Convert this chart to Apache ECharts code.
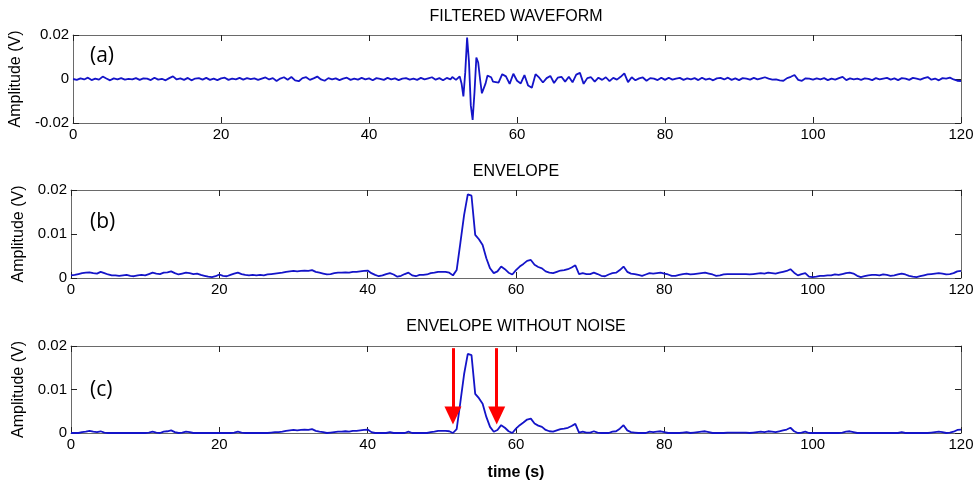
<!DOCTYPE html>
<html><head><meta charset="utf-8">
<script src="https://cdn.jsdelivr.net/npm/echarts@6/dist/echarts.min.js"></script>
<style>html,body{margin:0;padding:0;background:#fff}#c{width:977px;height:486px}</style>
</head><body><div id="c"></div><script>
// ---------- DATA ----------
const xTicks = [0, 20, 40, 60, 80, 100, 120];
const panelTitles = ['FILTERED WAVEFORM', 'ENVELOPE', 'ENVELOPE WITHOUT NOISE'];
const panelTags = ['(a)', '(b)', '(c)'];
const xTitle = 'time (s)';
const yTitle = 'Amplitude (V)';

// filtered waveform, t = 0 .. 50.5 s every 0.5 s
const waveBefore = [
  0.0000,-0.0004,0.0003,-0.0002,0.0006,-0.0005,0.0002,-0.0003,0.0011,0.0002,
  -0.0006,0.0003,-0.0002,0.0004,-0.0003,0.0001,-0.0002,0.0004,-0.0004,0.0003,
  0.0002,-0.0005,0.0006,-0.0003,0.0001,-0.0006,0.0004,0.0012,-0.0002,0.0003,
  -0.0004,0.0005,-0.0006,0.0002,0.0004,-0.0003,0.0005,-0.0004,0.0002,-0.0005,
  0.0003,0.0006,-0.0004,0.0002,-0.0002,0.0005,-0.0003,0.0004,-0.0001,0.0003,
  -0.0004,0.0002,0.0007,-0.0002,0.0004,-0.0009,0.0002,0.0008,-0.0003,0.0009,
  -0.0006,-0.0010,0.0004,0.0008,-0.0004,0.0003,0.0011,-0.0002,-0.0008,0.0004,
  -0.0002,0.0003,-0.0005,0.0002,0.0006,-0.0004,0.0002,-0.0003,0.0005,-0.0002,
  0.0003,-0.0006,0.0004,0.0001,-0.0004,0.0005,-0.0002,0.0003,-0.0005,0.0002,
  0.0004,-0.0003,0.0002,-0.0004,0.0005,-0.0002,0.0003,0.0008,-0.0003,0.0004,
  -0.0006,0.0005
];
// burst, t = 51 .. 57 s every 0.25 s
const waveBurst = [
  -0.0002,0.0009,0.0011,-0.0004,-0.0010,0.0012,-0.0020,-0.0079,0.0030,0.0188,
  0.0080,-0.0120,-0.0186,-0.0060,0.0098,0.0075,0.0000,-0.0065,-0.0070,-0.0020,
  0.0015,0.0020,0.0008,-0.0012,-0.0018
];
// t = 57.5 .. 120 s every 0.5 s
const waveAfter = [
  -0.0016,0.0022,0.0012,-0.0022,0.0024,-0.0008,-0.0020,0.0018,-0.0030,-0.0040,
  0.0022,0.0006,-0.0016,0.0004,0.0014,-0.0018,0.0006,0.0010,-0.0012,0.0010,
  -0.0015,0.0020,0.0028,-0.0022,0.0004,0.0008,-0.0012,0.0006,-0.0004,0.0008,
  -0.0010,0.0005,-0.0003,0.0010,0.0026,-0.0014,0.0008,-0.0006,0.0003,0.0007,
  -0.0008,0.0004,0.0002,-0.0005,0.0006,
  -0.0004,0.0006,-0.0003,0.0002,0.0005,-0.0004,0.0003,-0.0002,0.0004,-0.0005,
  0.0006,-0.0003,0.0002,-0.0006,0.0003,0.0005,-0.0002,0.0006,-0.0004,0.0003,
  -0.0005,0.0004,0.0002,-0.0003,0.0005,-0.0002,0.0003,0.0008,0.0002,-0.0003,
  -0.0002,-0.0006,-0.0008,0.0004,0.0010,0.0018,-0.0004,-0.0008,0.0003,0.0002,
  -0.0003,0.0003,-0.0002,0.0004,-0.0005,0.0002,-0.0003,0.0004,0.0010,-0.0005,
  0.0003,-0.0002,0.0002,-0.0004,0.0003,0.0001,-0.0005,0.0004,-0.0002,0.0002,
  0.0005,-0.0003,0.0003,-0.0005,0.0004,0.0002,-0.0004,0.0005,0.0002,-0.0003,
  0.0004,0.0009,-0.0003,0.0002,-0.0006,0.0004,0.0002,0.0006,-0.0002,-0.0008,
  -0.0009
];

// envelope, t = 0 .. 120 s every 0.5 s
const envelope = [
  0.0006,0.0007,0.0009,0.0011,0.0012,0.0013,0.0011,0.0010,0.0014,0.0011,
  0.0008,0.0006,0.0006,0.0005,0.0006,0.0007,0.0005,0.0004,0.0006,0.0007,
  0.0006,0.0009,0.0012,0.0010,0.0009,0.0012,0.0013,0.0015,0.0011,0.0008,
  0.0010,0.0012,0.0011,0.0009,0.0010,0.0007,0.0005,0.0003,0.0002,0.0004,
  0.0008,0.0005,0.0004,0.0007,0.0010,0.0012,0.0009,0.0007,0.0006,0.0007,
  0.0006,0.0007,0.0006,0.0008,0.0009,0.0010,0.0011,0.0012,0.0014,0.0015,
  0.0016,0.0015,0.0016,0.0017,0.0016,0.0018,0.0014,0.0012,0.0010,0.0008,
  0.0009,0.0011,0.0012,0.0012,0.0013,0.0012,0.0014,0.0014,0.0015,0.0016,
  0.0017,0.0011,0.0007,0.0004,0.0006,0.0009,0.0011,0.0008,0.0003,0.0005,
  0.0009,0.0012,0.0006,0.0004,0.0007,0.0007,0.0008,0.0011,0.0012,0.0014,
  0.0014,0.0014,0.0012,0.0006,0.0018,0.0080,0.0143,0.0190,0.0187,0.0098,
  0.0088,0.0075,0.0045,0.0022,0.0011,0.0015,0.0026,0.0020,0.0012,0.0008,
  0.0018,0.0026,0.0032,0.0039,0.0041,0.0030,0.0025,0.0022,0.0015,0.0012,
  0.0011,0.0014,0.0017,0.0018,0.0020,0.0024,0.0029,0.0009,0.0011,0.0009,
  0.0009,0.0012,0.0009,0.0005,0.0004,0.0008,0.0011,0.0012,0.0018,0.0026,
  0.0014,0.0010,0.0009,0.0007,0.0005,0.0008,0.0011,0.0010,0.0011,0.0012,
  0.0010,0.0008,0.0005,0.0005,0.0007,0.0009,0.0010,0.0008,0.0009,0.0010,
  0.0011,0.0012,0.0010,0.0008,0.0005,0.0006,0.0008,0.0009,0.0009,0.0009,
  0.0009,0.0009,0.0009,0.0008,0.0009,0.0010,0.0011,0.0010,0.0012,0.0011,
  0.0010,0.0012,0.0014,0.0016,0.0020,0.0012,0.0006,0.0009,0.0011,0.0003,
  0.0002,0.0003,0.0005,0.0005,0.0006,0.0006,0.0008,0.0007,0.0009,0.0011,
  0.0012,0.0010,0.0005,0.0002,0.0004,0.0006,0.0007,0.0007,0.0006,0.0008,
  0.0007,0.0005,0.0006,0.0008,0.0010,0.0008,0.0005,0.0003,0.0002,0.0004,
  0.0006,0.0008,0.0009,0.0010,0.0011,0.0010,0.0008,0.0009,0.0011,0.0015,
  0.0016
];

// envelope without noise, t = 0 .. 120 s every 0.5 s
const envelopeClean = [
  0,0,0,0.0002,0.0003,0.0005,0.0003,0.0002,0.0004,0.0001,
  0,0,0,0,0,0,0,0,0,0,
  0,0.0001,0.0003,0.0001,0,0.0003,0.0004,0.0006,0.0002,0,
  0.0001,0.0003,0.0002,0,0,0,0,0,0,0,
  0,0,0,0,0.0001,0.0003,0.0001,0,0,0,
  0,0,0,0,0.0001,0.0002,0.0002,0.0003,0.0005,0.0006,
  0.0007,0.0006,0.0007,0.0008,0.0007,0.0009,0.0005,0.0003,0.0002,0,
  0.0001,0.0002,0.0003,0.0003,0.0004,0.0003,0.0005,0.0005,0.0006,0.0007,
  0.0008,0.0002,0,0,0,0,0.0002,0,0,0,
  0,0.0003,0,0,0,0,0,0.0002,0.0003,0.0005,
  0.0005,0.0005,0.0004,0,0.0009,0.0071,0.0135,0.0182,0.0179,0.0090,
  0.0080,0.0067,0.0037,0.0014,0.0003,0.0007,0.0018,0.0012,0.0004,0,
  0.0010,0.0018,0.0024,0.0031,0.0033,0.0022,0.0017,0.0014,0.0007,0.0004,
  0.0003,0.0006,0.0009,0.0010,0.0012,0.0016,0.0021,0.0001,0.0003,0.0001,
  0.0001,0.0004,0.0001,0,0,0,0.0003,0.0004,0.0010,0.0018,
  0.0006,0.0002,0.0001,0,0,0,0.0003,0.0002,0.0003,0.0004,
  0.0002,0,0,0,0,0.0001,0.0002,0,0.0001,0.0002,
  0.0003,0.0004,0.0002,0,0,0,0,0.0001,0.0001,0.0001,
  0.0001,0.0001,0.0001,0,0.0001,0.0002,0.0003,0.0002,0.0004,0.0003,
  0.0002,0.0004,0.0006,0.0008,0.0012,0.0004,0,0.0001,0.0003,0,
  0,0,0,0,0,0,0,0,0.0001,0.0003,
  0.0004,0.0002,0,0,0,0,0,0,0,0,
  0,0,0,0,0.0002,0,0,0,0,0,
  0,0,0.0001,0.0002,0.0003,0.0002,0,0.0001,0.0003,0.0007,
  0.0008
];

// arrows in panel (c): time positions, and the amplitude where each starts / ends
const arrowTimes = [51.5, 57.4];
const arrowFrom = 0.0195;
const arrowTo = 0.0040;

// ---------- BUILD ----------
function seg(start, step, vals) { return vals.map((v, i) => [start + i * step, v]); }
const waveData = seg(0, 0.5, waveBefore).concat(seg(51, 0.25, waveBurst), seg(57.5, 0.5, waveAfter));
const envData = seg(0, 0.5, envelope);
const cleanData = seg(0, 0.5, envelopeClean);

const FONT = '"Liberation Sans", Arial, sans-serif';
const LINE = '#1414c8';
const grids = [
  { left: 71, top: 35, width: 890, height: 88 },
  { left: 71, top: 190, width: 890, height: 88 },
  { left: 71, top: 346, width: 890, height: 87 }
];
const yRanges = [[-0.02, 0.02, 0.02], [0, 0.02, 0.01], [0, 0.02, 0.01]];

const xAxis = [], yAxis = [];
grids.forEach((g, i) => {
  const base = {
    type: 'value', gridIndex: i, min: xTicks[0], max: xTicks[xTicks.length - 1], interval: xTicks[1] - xTicks[0],
    splitLine: { show: false },
    axisLine: { show: true, onZero: false, lineStyle: { color: '#6a6a6a', width: 1 } },
    axisTick: { show: true, inside: true, length: 6, lineStyle: { color: '#222', width: 1 } }
  };
  xAxis.push(Object.assign({}, base, {
    position: 'bottom',
    axisLabel: { color: '#000', fontSize: 15, fontFamily: FONT, margin: 4 },
    name: i === 2 ? xTitle : '', nameLocation: 'middle', nameGap: 32,
    nameTextStyle: { color: '#000', fontSize: 16, fontWeight: 'bold', fontFamily: FONT }
  }));
  xAxis.push(Object.assign({}, base, { position: 'top', axisLabel: { show: false } }));
  const r = yRanges[i];
  const ybase = {
    type: 'value', gridIndex: i, min: r[0], max: r[1], interval: r[2],
    splitLine: { show: false },
    axisLine: { show: true, onZero: false, lineStyle: { color: '#6a6a6a', width: 1 } },
    axisTick: { show: true, inside: true, length: 6, lineStyle: { color: '#222', width: 1 } }
  };
  yAxis.push(Object.assign({}, ybase, {
    position: 'left',
    axisLabel: { color: '#000', fontSize: 15, fontFamily: FONT, margin: 4 },
    name: yTitle, nameLocation: 'middle', nameGap: 44,
    nameTextStyle: { color: '#000', fontSize: 16, fontFamily: FONT }
  }));
  yAxis.push(Object.assign({}, ybase, { position: 'right', axisLabel: { show: false } }));
});

const lineSeries = (data, i) => ({
  type: 'line', xAxisIndex: i * 2, yAxisIndex: i * 2, data,
  showSymbol: false, symbol: 'none', smooth: false,
  lineStyle: { color: LINE, width: 1.8 }, animation: false, silent: true
});

const series = [lineSeries(waveData, 0), lineSeries(envData, 1), lineSeries(cleanData, 2)];
series[2].markLine = {
  silent: true, animation: false,
  symbol: ['none', 'triangle'], symbolSize: [17, 18],
  lineStyle: { color: '#ff0000', width: 3, type: 'solid' },
  itemStyle: { color: '#ff0000' },
  label: { show: false },
  data: arrowTimes.map(t => [{ coord: [t, arrowFrom] }, { coord: [t, arrowTo] }])
};

const titleY = [17, 172, 327];
const tagPos = [[90, 56], [90, 222], [90, 390]];
const graphic = [];
panelTitles.forEach((t, i) => graphic.push({
  type: 'text', x: 516, y: titleY[i],
  style: { text: t, font: '16px ' + FONT, fill: '#000', align: 'center', verticalAlign: 'middle' }
}));
panelTags.forEach((t, i) => graphic.push({
  type: 'text', x: tagPos[i][0], y: tagPos[i][1],
  style: { text: t, font: '21px "Open Sans", Lato, sans-serif', fill: '#000', align: 'left', verticalAlign: 'middle' }
}));

const chart = echarts.init(document.getElementById('c'), null, { renderer: 'canvas' });
chart.setOption({
  backgroundColor: '#fff', animation: false,
  grid: grids, xAxis, yAxis, series, graphic
});
</script></body></html>
